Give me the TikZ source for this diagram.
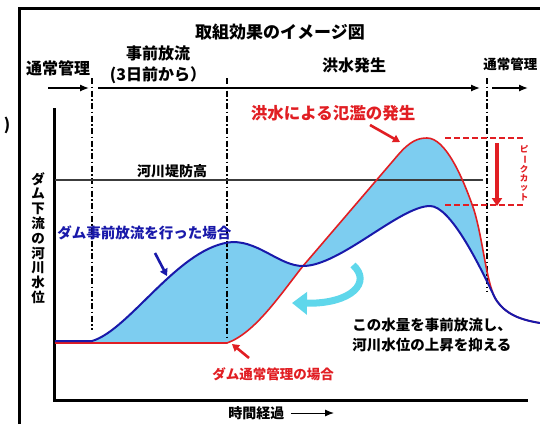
\documentclass[tikz,border=0pt]{standalone}
\usepackage{fontspec}
\setmainfont{Noto Sans CJK JP}
\usetikzlibrary{arrows.meta,positioning}
\definecolor{rivblue}{RGB}{25,25,170}
\definecolor{rivred}{RGB}{225,30,35}
\definecolor{fillblue}{RGB}{125,205,240}
\definecolor{turncyan}{RGB}{95,215,235}
\definecolor{dikegray}{RGB}{60,60,60}

\begin{document}
\begin{tikzpicture}[x=1pt, y=-1pt, thick,
    txt/.style = {inner sep=0pt, font=\bfseries\fontsize{16}{18}\selectfont},
    small/.style = {inner sep=0pt, font=\bfseries\fontsize{14}{20}\selectfont},
    bar/.style = {line width=1.2pt, dash pattern=on 6pt off 2.5pt on 1.5pt off 2.5pt},
    go/.style = {line width=1.3pt, -{Latex[length=9pt,width=7pt]}},
    redcut/.style = {rivred, line width=1.6pt, dash pattern=on 6pt off 3pt},
    point/.style = {line width=2.6pt, -{Triangle[length=7pt,width=8pt]}}]
\useasboundingbox (0,0) rectangle (540,424);

% frame and axes
\draw[line width=3pt] (19,424) -- (19,8) -- (545,8);
\draw[line width=3pt] (54,108) -- (54,400) -- (528,400);

% gap between the two water levels
\fill[fillblue] (92,341) .. controls (130,330) and (180,245) .. (233,242)
    .. controls (260,242) and (280,266) .. (303,266)
    .. controls (340,266) and (400,206) .. (430,206)
    .. controls (450,206) and (478,262) .. (495,298)
    .. controls (486,280) and (483,240) .. (474,210)
    .. controls (462,175) and (445,138) .. (427,138)
    .. controls (418,138) and (410,141) .. (398,155)
    -- (303,266) .. controls (280,295) and (255,333) .. (227,343) -- (92,343) -- cycle;

% phase bars
\draw[bar] (92,78) -- (92,330);
\draw[bar] (227,78) -- (227,340);
\draw[bar] (487,78) -- (487,292);

% dike height
\draw[dikegray, line width=1.3pt] (55,180) -- (483,180);
\node[small] (dike) at (172,171) {河川堤防高};

% normal management
\draw[rivred, line width=1.6pt] (55,343) -- (227,343)
    .. controls (255,333) and (280,295) .. (303,266) -- (398,155)
    .. controls (410,141) and (418,138) .. (427,138)
    .. controls (445,138) and (462,175) .. (474,210)
    .. controls (483,240) and (486,280) .. (495,298)
    .. controls (505,315) and (522,320) .. (540,323);
% pre-release
\draw[rivblue, line width=2pt] (55,341) -- (92,341)
    .. controls (130,330) and (180,245) .. (233,242)
    .. controls (260,242) and (280,266) .. (303,266)
    .. controls (340,266) and (400,206) .. (430,206)
    .. controls (450,206) and (478,262) .. (495,298)
    .. controls (505,315) and (522,320) .. (540,323);

% headers
\node[txt, font=\bfseries\fontsize{17}{19}\selectfont] (title) at (280,32) {取組効果のイメージ図};
\node[txt] (norm1) at (58,68) {通常管理};
\node[txt] (pre1) at (158,53) {事前放流};
\node[txt] (pre2) [below=5pt of pre1] {(3日前から）};
\node[txt] (flood) at (354,65) {洪水発生};
\node[txt, anchor=west, font=\bfseries\fontsize{13.5}{16}\selectfont] (norm2) at (483,64) {通常管理};
\node[txt] (paren) at (7,125) {)};

\coordinate (a1) at (48,88);
\coordinate (a2) at (89,88);
\coordinate (a3) at (98,88);
\coordinate (a4) at (480,88);
\coordinate (a5) at (492,88);
\coordinate (a6) at (528,88);
\draw[go] (a1) -- (a2);
\draw[go] (a3) -- (a4);
\draw[go] (a5) -- (a6);

% axis labels
\node[align=center, inner sep=0pt, font=\bfseries\fontsize{13.5}{14.8}\selectfont] (ylab) at (38,238)
    {ダ\\ム\\下\\流\\の\\河\\川\\水\\位};
\node[small, anchor=west] (time) at (228,413) {時間経過};
\coordinate (t2) at (334,413);
\draw[go, line width=1pt] (time.east) ++(6,0) -- (t2);

% peak cut
\draw[redcut] (445,138) -- (525,138);
\draw[redcut] (445,205) -- (525,205);
\coordinate (c1) at (497,143);
\coordinate (c2) at (497,206);
\draw[rivred, line width=3.5pt, -{Triangle[length=8pt,width=10pt]}] (c1) -- (c2);
\node[rivred, align=center, inner sep=0pt, font=\bfseries\fontsize{8.5}{9.3}\selectfont] (cut) at (524,173)
    {ピ\\\rotatebox[origin=c]{-90}{ー}\\ク\\カ\\ッ\\ト};

% labels and pointers
\node[small, rivred, font=\bfseries\fontsize{16.5}{18}\selectfont] (over) at (333,113) {洪水による氾濫の発生};
\coordinate (o1) at (370,125);
\coordinate (o2) at (400,142);
\draw[point, rivred] (o1) -- (o2);

\node[small, rivblue, font=\bfseries\fontsize{14.5}{16}\selectfont, anchor=west] (pre) at (57,233) {ダム事前放流を行った場合};
\coordinate (p1) at (155,253);
\coordinate (p2) at (167,276);
\draw[point, rivblue] (p1) -- (p2);

\node[small, rivred, font=\bfseries\fontsize{13.5}{15}\selectfont] (usual) at (273,374) {ダム通常管理の場合};
\coordinate (u1) at (249,358);
\coordinate (u2) at (232,344);
\draw[point, rivred] (u1) -- (u2);

\node[small, align=left, anchor=west, font=\bfseries\fontsize{14.5}{20}\selectfont] (note) at (352,335)
    {この水量を事前放流し、\\河川水位の上昇を抑える};

% turn arrow
\coordinate (r1) at (353,265);
\coordinate (r2) at (292,303);
\draw[turncyan, line width=7pt, -{Triangle[length=15pt,width=22pt]}] (r1) .. controls (372,282) and (352,304) .. (r2);

\end{tikzpicture}
\end{document}
